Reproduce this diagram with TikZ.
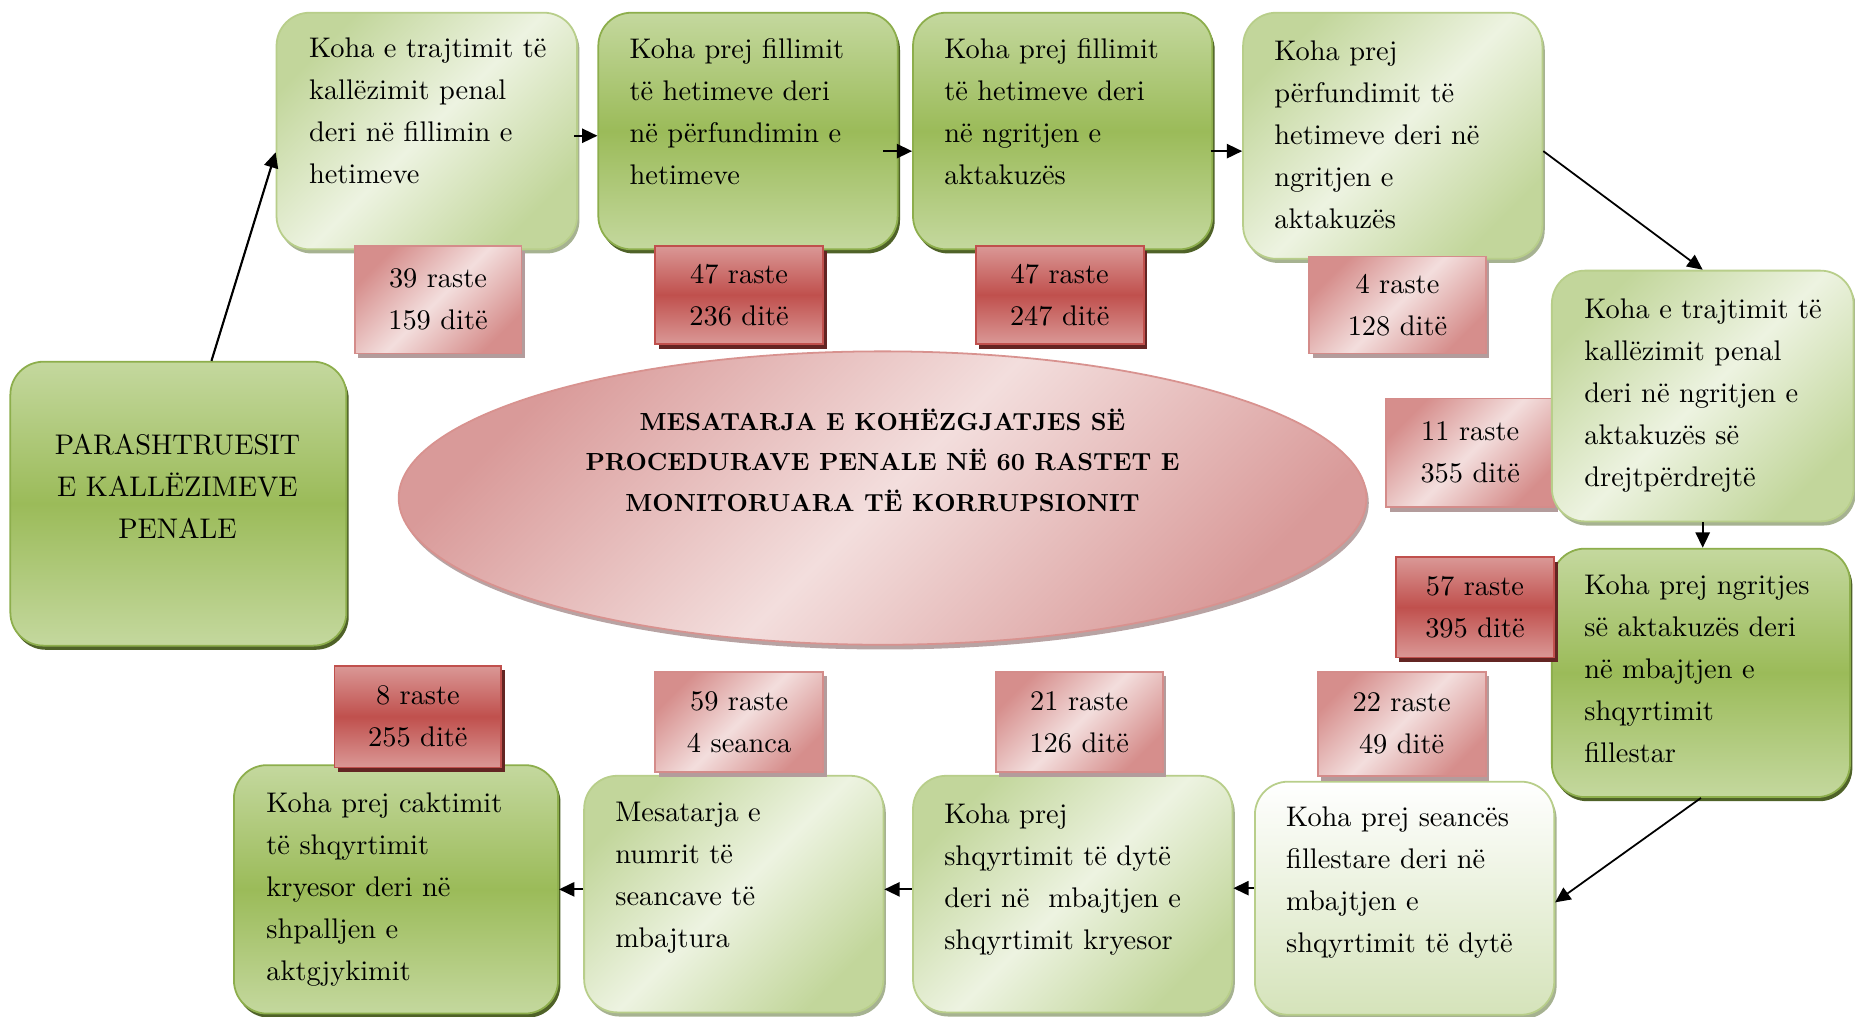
\documentclass[tikz,border=0pt]{standalone}
\usepackage{fontspec}
\setmainfont{lmroman10-regular.otf}[BoldFont=lmroman10-bold.otf]
\usetikzlibrary{shapes.geometric,arrows.meta,shadows,calc}
\definecolor{lgL}{HTML}{EDF3E1}
\definecolor{lgD}{HTML}{C2D69B}
\definecolor{lgB}{HTML}{B8CE8A}
\definecolor{lgS}{HTML}{A6B291}
\definecolor{mgL}{HTML}{C4D89E}
\definecolor{mgM}{HTML}{9BBB59}
\definecolor{mgB}{HTML}{8DAE4C}
\definecolor{mgS}{HTML}{4F6228}
\definecolor{wgB}{HTML}{D5E3BA}
\definecolor{pL}{HTML}{F3DEDD}
\definecolor{pD}{HTML}{D68E8C}
\definecolor{pB}{HTML}{D48C8A}
\definecolor{pS}{HTML}{B39C9C}
\definecolor{rL}{HTML}{DA9896}
\definecolor{rM}{HTML}{C0504D}
\definecolor{rB}{HTML}{C0504D}
\definecolor{rS}{HTML}{632523}
\definecolor{eL}{HTML}{F3DEDD}
\definecolor{eD}{HTML}{D99A99}
\definecolor{eB}{HTML}{D8928F}
\definecolor{eS}{HTML}{B8A3A3}
\newcommand{\ftxt}{\fontsize{24}{35.5}\selectfont}
\begin{document}
\begin{tikzpicture}[x=1pt,y=-1pt,
  box/.style={draw, rounded corners=28pt, line width=1.5pt, anchor=north west, inner sep=0pt},
  lbox/.style={box, draw=lgB, top color=lgD, bottom color=lgD, middle color=lgL, shading angle=45,
     general shadow={fill=lgS, shadow xshift=2pt, shadow yshift=-3.5pt}},
  mbox/.style={box, draw=mgB, top color=mgL, bottom color=mgL, middle color=mgM,
     general shadow={fill=mgS, shadow xshift=2pt, shadow yshift=-3.5pt}},
  wbox/.style={box, draw=lgB, top color=white, bottom color=wgB,
     general shadow={fill=lgS, shadow xshift=2pt, shadow yshift=-3.5pt}},
  sbox/.style={draw, line width=1.5pt, anchor=north west, inner sep=0pt, align=center, font=\ftxt},
  pbox/.style={sbox, draw=pB, top color=pD, bottom color=pD, middle color=pL, shading angle=45,
     general shadow={fill=pS, shadow xshift=3pt, shadow yshift=-4pt}},
  rbox/.style={sbox, draw=rB, top color=rL, bottom color=rL, middle color=rM,
     general shadow={fill=rS, shadow xshift=3pt, shadow yshift=-4pt}},
  txt/.style={anchor=north west, inner sep=0pt, align=left, font=\ftxt},
  arr/.style={-{Triangle[length=13pt,width=12pt]}, line width=1.8pt, black}
]
\useasboundingbox (0,0) rectangle (1568,859);
\fill[white] (0,0) rectangle (1568,859);

% central ellipse
\node[ellipse, draw=eB, line width=1.5pt, inner sep=0pt, minimum width=818pt, minimum height=248pt,
  top color=eD, bottom color=eD, middle color=eL, shading angle=45,
  general shadow={fill=eS, shadow xshift=2pt, shadow yshift=-4pt}] (M) at (746,421) {};
\node[align=center, inner sep=0pt, font=\fontsize{20.9}{34}\selectfont\bfseries] (Mt) at (746,389)
  {MESATARJA E KOHËZGJATJES SË\\PROCEDURAVE PENALE NË 60 RASTET E\\MONITORUARA TË KORRUPSIONIT};

% main boxes
\node[mbox, minimum width=284pt, minimum height=240pt] (P) at (8,305) {};
\node[align=center, inner sep=0pt, font=\fontsize{24}{35.5}\selectfont] (Pt) at (150,411) {PARASHTRUESIT\\E KALLËZIMEVE\\PENALE};

\node[lbox, minimum width=254pt, minimum height=200pt] (A) at (233,10) {};
\node[txt] (At) at (261,32) {Koha e trajtimit të\\kallëzimit penal\\deri në fillimin e\\hetimeve};

\node[mbox, minimum width=253pt, minimum height=200pt] (B) at (505,10) {};
\node[txt] (Bt) at (532,32) {Koha prej fillimit\\të hetimeve deri\\në përfundimin e\\hetimeve};

\node[mbox, minimum width=253pt, minimum height=200pt] (C) at (771,10) {};
\node[txt] (Ct) at (798,32) {Koha prej fillimit\\të hetimeve deri\\në ngritjen e\\aktakuzës};

\node[lbox, minimum width=253pt, minimum height=208pt] (D) at (1050,10) {};
\node[txt] (Dt) at (1077,34) {Koha prej\\përfundimit të\\hetimeve deri në\\ngritjen e\\aktakuzës};

\node[mbox, minimum width=252pt, minimum height=210pt] (F) at (1311,463) {};
\node[txt] (Ft) at (1339,486) {Koha prej ngritjes\\së aktakuzës deri\\në mbajtjen e\\shqyrtimit\\fillestar};

\node[wbox, minimum width=253pt, minimum height=197pt] (G) at (1060,660) {};
\node[txt] (Gt) at (1087,682) {Koha prej seancës\\fillestare deri në\\mbajtjen e\\shqyrtimit të dytë};

\node[lbox, minimum width=270pt, minimum height=200pt] (H) at (771,655) {};
\node[txt] (Ht) at (798,679) {Koha prej\\shqyrtimit të dytë\\deri në~ mbajtjen e\\shqyrtimit kryesor};

\node[lbox, minimum width=253pt, minimum height=200pt] (I) at (493,655) {};
\node[txt] (It) at (520,678) {Mesatarja e\\numrit të\\seancave të\\mbajtura};

\node[mbox, minimum width=274pt, minimum height=210pt] (J) at (197,646) {};
\node[txt] (Jt) at (225,670) {Koha prej caktimit\\të shqyrtimit\\kryesor deri në\\shpalljen e\\aktgjykimit};

% small count boxes
\node[pbox, minimum width=141pt, minimum height=91pt] (s1) at (299,207) {39 raste\\159 ditë};
\node[rbox, minimum width=142pt, minimum height=83pt] (s2) at (553,207) {47 raste\\236 ditë};
\node[rbox, minimum width=142pt, minimum height=83pt] (s3) at (824,207) {47 raste\\247 ditë};
\node[pbox, minimum width=149pt, minimum height=82pt] (s4) at (1106,216) {4 raste\\128 ditë};
\node[pbox, minimum width=142pt, minimum height=92pt] (s5) at (1171,336) {11 raste\\355 ditë};
\node[rbox, minimum width=134pt, minimum height=85pt] (s6) at (1179,470) {57 raste\\395 ditë};
\node[pbox, minimum width=142pt, minimum height=88pt] (s7) at (1113,567) {22 raste\\49 ditë};
\node[pbox, minimum width=141pt, minimum height=85pt] (s8) at (841,567) {21 raste\\126 ditë};
\node[pbox, minimum width=142pt, minimum height=85pt] (s9) at (553,567) {59 raste\\4 seanca};
\node[rbox, minimum width=141pt, minimum height=86pt] (s10) at (282,562) {8 raste\\255 ditë};

% box E drawn over s5
\node[lbox, minimum width=255pt, minimum height=212pt] (E) at (1311,228) {};
\node[txt] (Et) at (1339,252) {Koha e trajtimit të\\kallëzimit penal\\deri në ngritjen e\\aktakuzës së\\drejtpërdrejtë};

% connectors
\draw[arr] ([xshift=28pt]P.north) -- ([yshift=-18pt]A.west);
\coordinate (ab) at ([xshift=-3pt,yshift=-4pt]A.east);
\draw[arr] (ab) -- (ab -| B.west);
\coordinate (bc) at ([xshift=-13pt,yshift=-17pt]B.east);
\draw[arr] (bc) -- (bc -| C.west);
\coordinate (cd) at ([xshift=-2pt,yshift=-17pt]C.east);
\draw[arr] (cd) -- (cd -| D.west);
\draw[arr, line width=1.5pt] ([yshift=-13pt]D.east) -- (E.north);
\draw[arr] (E.south) -- (E.south |- F.north);
\draw[arr, line width=1.5pt] (F.south) -- ([yshift=-3.5pt]G.east);
\coordinate (gh) at ([yshift=8.5pt]G.west);
\draw[arr] (gh) -- (gh -| H.east);
\coordinate (hi) at ([yshift=4pt]H.west);
\draw[arr] (hi) -- (hi -| I.east);
\coordinate (ij) at ([yshift=4pt]I.west);
\draw[arr] (ij) -- (ij -| J.east);
\end{tikzpicture}
\end{document}
